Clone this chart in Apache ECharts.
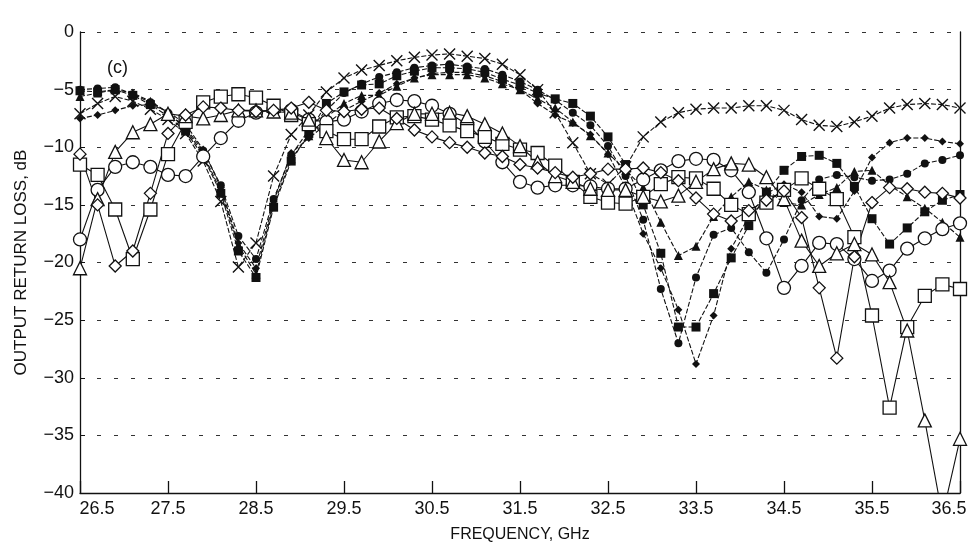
<!DOCTYPE html>
<html>
<head>
<meta charset="utf-8">
<title>Output return loss</title>
<script src="https://cdn.jsdelivr.net/npm/echarts@6/dist/echarts.min.js"></script>
<style>
  html, body { margin: 0; padding: 0; background: #fff; }
  #chart { width: 974px; height: 549px; }
</style>
</head>
<body>
<div id="chart"></div>
<script>
// frequency points, GHz
var freqs = ['26.5','26.7','26.9','27.1','27.3','27.5','27.7','27.9','28.1','28.3',
             '28.5','28.7','28.9','29.1','29.3','29.5','29.7','29.9','30.1','30.3',
             '30.5','30.7','30.9','31.1','31.3','31.5','31.7','31.9','32.1','32.3',
             '32.5','32.7','32.9','33.1','33.3','33.5','33.7','33.9','34.1','34.3',
             '34.5','34.7','34.9','35.1','35.3','35.5','35.7','35.9','36.1','36.3','36.5'];

// output return loss, dB (one list per marker)
var crossLoss = [-7.1,-6.2,-5.6,-6.0,-6.7,-7.6,-8.8,-11.2,-14.7,-20.4,
                 -18.3,-12.5,-8.9,-7.2,-5.2,-4.0,-3.3,-2.9,-2.5,-2.2,
                 -2.0,-1.9,-2.1,-2.3,-2.8,-3.7,-5.0,-7.0,-9.6,-12.3,
                 -13.2,-11.7,-9.1,-7.8,-7.0,-6.7,-6.6,-6.6,-6.4,-6.4,
                 -6.8,-7.6,-8.1,-8.2,-7.8,-7.3,-6.6,-6.3,-6.2,-6.3,-6.6];
var dotLoss = [-5.0,-4.9,-4.8,-5.4,-6.1,-7.0,-8.3,-10.3,-13.3,-17.7,
               -19.7,-14.5,-10.7,-8.5,-6.8,-5.3,-4.5,-3.9,-3.5,-3.1,
               -2.9,-2.8,-3.0,-3.2,-3.7,-4.3,-5.0,-5.9,-7.0,-8.1,
               -9.9,-12.5,-16.3,-22.3,-27.0,-21.3,-17.6,-17.0,-19.1,-20.9,
               -18.0,-14.6,-12.8,-12.4,-12.6,-12.9,-12.8,-12.3,-11.4,-11.1,-10.7];
var squareLoss = [-5.1,-5.2,-5.0,-5.5,-6.3,-7.3,-8.6,-10.8,-14.0,-19.0,
                  -21.3,-15.2,-11.2,-8.8,-6.2,-5.2,-4.6,-4.5,-3.8,-3.4,
                  -3.1,-3.1,-3.2,-3.5,-4.1,-4.6,-5.3,-5.8,-6.2,-7.3,
                  -9.1,-11.5,-15.0,-19.2,-25.6,-25.6,-22.7,-19.6,-16.8,-13.9,
                  -12.0,-10.8,-10.7,-11.4,-13.4,-16.2,-18.4,-17.0,-15.6,-14.6,-14.1];
var triLoss = [-5.6,-5.3,-5.0,-5.3,-6.0,-7.0,-8.4,-10.6,-13.8,-18.5,
               -21.0,-15.0,-11.0,-9.0,-7.4,-6.2,-5.5,-5.5,-4.7,-4.0,
               -3.7,-3.7,-3.7,-4.0,-4.5,-5.0,-5.8,-6.6,-7.8,-9.0,
               -10.5,-12.0,-13.5,-16.5,-19.4,-18.6,-16.0,-14.3,-13.0,-13.7,
               -14.8,-15.0,-14.1,-13.5,-12.1,-12.0,-13.3,-14.3,-15.3,-16.5,-17.8];
var diamondLoss = [-7.5,-7.2,-6.8,-6.4,-6.3,-6.9,-8.0,-10.2,-13.5,-18.3,
                   -20.5,-14.7,-10.5,-9.2,-8.0,-6.8,-6.0,-5.3,-4.5,-4.0,
                   -3.6,-3.5,-3.5,-3.8,-4.3,-5.0,-6.2,-7.2,-7.9,-8.9,
                   -10.6,-13.5,-17.5,-20.5,-24.1,-28.8,-24.6,-18.8,-16.0,-14.0,
                   -13.2,-13.9,-16.0,-16.2,-13.8,-10.9,-9.6,-9.2,-9.2,-9.5,-9.7];
var openCircleLoss = [-18.0,-13.7,-11.7,-11.3,-11.7,-12.4,-12.5,-10.8,-9.2,-7.7,
                      -7.0,-6.7,-6.8,-7.6,-7.8,-7.6,-6.9,-6.2,-5.9,-6.0,
                      -6.4,-7.1,-8.0,-9.5,-11.3,-13.0,-13.5,-13.3,-13.3,-13.4,
                      -13.6,-13.6,-12.8,-12.0,-11.2,-11.0,-11.1,-12.0,-13.9,-17.9,
                      -22.2,-20.3,-18.3,-18.4,-19.7,-21.6,-20.7,-18.8,-17.9,-17.1,-16.6];
var openSquareLoss = [-11.5,-12.4,-15.4,-19.7,-15.4,-10.6,-7.8,-6.1,-5.6,-5.4,
                      -5.7,-6.4,-7.2,-8.0,-8.6,-9.3,-9.3,-8.2,-7.4,-7.3,
                      -7.6,-8.1,-8.6,-9.1,-9.7,-10.2,-10.5,-11.6,-13.0,-14.3,
                      -14.8,-14.9,-14.3,-13.2,-12.6,-12.7,-13.6,-15.0,-15.8,-14.8,
                      -13.7,-12.7,-13.6,-14.5,-17.8,-24.6,-32.6,-25.6,-22.9,-21.9,-22.3];
var openTriLoss = [-20.5,-14.5,-10.4,-8.7,-8.0,-7.1,-7.3,-7.5,-7.2,-6.8,
                   -6.8,-6.9,-7.0,-7.6,-9.2,-11.1,-11.3,-9.5,-7.9,-7.1,
                   -7.1,-7.0,-7.3,-8.0,-8.8,-9.9,-11.3,-12.5,-13.0,-13.6,
                   -13.7,-13.7,-14.3,-14.7,-14.2,-13.0,-11.9,-11.4,-11.5,-12.6,
                   -14.5,-18.1,-20.3,-19.2,-18.4,-19.3,-21.7,-25.9,-33.7,-42.0,-35.3];
var openDiamondLoss = [-10.6,-15.0,-20.3,-19.0,-14.0,-8.8,-7.2,-6.5,-6.6,-6.8,
                       -6.9,-6.8,-6.6,-6.1,-6.8,-6.9,-6.7,-6.6,-7.5,-8.5,
                       -9.1,-9.6,-10.0,-10.5,-10.8,-11.5,-11.8,-12.2,-12.6,-12.3,
                       -11.9,-11.9,-11.8,-12.2,-12.9,-14.4,-15.8,-16.4,-15.5,-14.6,
                       -13.8,-16.1,-22.2,-28.3,-19.5,-14.8,-13.5,-13.6,-13.9,-14.0,-14.4];

var yTicks = { min: -40, max: 0, step: 5 };
var ink = '#111';
var font = 'Liberation Sans, Arial, Helvetica, sans-serif';

function curve(name, data, symbol, size, open, dashed) {
    return {
        name: name,
        type: 'line',
        data: data,
        symbol: symbol,
        symbolSize: size,
        showAllSymbol: true,
        clip: true,
        lineStyle: { color: ink, width: 1.1, type: dashed ? [5, 2] : 'solid' },
        itemStyle: open
            ? { color: '#fff', borderColor: ink, borderWidth: 1.3 }
            : { color: ink, borderColor: ink, borderWidth: 0 },
        emphasis: { disabled: true },
        z: open ? 3 : 2
    };
}

var crossSeries = curve('x', crossLoss, 'path://M0,0L10,10M10,0L0,10', 11, false, true);
crossSeries.itemStyle = { color: 'none', borderColor: ink, borderWidth: 1.4 };

// end labels are nudged inside the frame, as in the print
function freqLabel(v, i) {
    if (i === 0) return '{first|' + v + '}';
    if (i === freqs.length - 1) return '{last|' + v + '}';
    return v;
}

var chart = echarts.init(document.getElementById('chart'));
chart.setOption({
    animation: false,
    backgroundColor: '#fff',
    textStyle: { fontFamily: font, color: ink },
    title: {
        text: '(c)', left: 102, top: 54,
        textStyle: { fontFamily: font, fontSize: 18, fontWeight: 'normal', color: ink }
    },
    grid: { left: 80, right: 14, top: 32, bottom: 56 },
    xAxis: [{
        type: 'category',
        data: freqs,
        boundaryGap: false,
        name: 'FREQUENCY, GHz',
        nameLocation: 'middle',
        nameGap: 34,
        nameTextStyle: { fontFamily: font, fontSize: 16, color: ink },
        axisLine: { onZero: false, lineStyle: { color: ink, width: 1.3 } },
        axisTick: { show: true, inside: true, length: 12, interval: 4, lineStyle: { color: ink, width: 1.3 } },
        axisLabel: {
            interval: 4, margin: 7, fontSize: 18, color: ink, fontFamily: font,
            formatter: freqLabel,
            rich: {
                first: { fontSize: 18, fontFamily: font, color: ink, padding: [0, 0, 0, 34] },
                last: { fontSize: 18, fontFamily: font, color: ink, padding: [0, 22, 0, 0] }
            }
        },
        splitLine: { show: false }
    }],
    yAxis: [{
        type: 'value',
        min: yTicks.min, max: yTicks.max, interval: yTicks.step,
        name: 'OUTPUT RETURN LOSS, dB',
        nameLocation: 'middle',
        nameGap: 50,
        nameRotate: 90,
        nameTextStyle: { fontFamily: font, fontSize: 17, color: ink },
        axisLine: { show: true, lineStyle: { color: ink, width: 1.3 } },
        axisTick: { show: true, inside: true, length: 5, lineStyle: { color: ink } },
        axisLabel: {
            margin: 6, fontSize: 18, color: ink, fontFamily: font,
            formatter: function (v) { return v < 0 ? '\u2212' + (-v) : String(v); }
        },
        splitLine: { show: true, lineStyle: { color: '#333', width: 1, type: [4, 13] } }
    }, {
        type: 'value',
        position: 'right',
        min: yTicks.min, max: yTicks.max, interval: yTicks.step,
        axisLine: { show: true, onZero: false, lineStyle: { color: ink, width: 1.3 } },
        axisTick: { show: false },
        axisLabel: { show: false },
        splitLine: { show: false }
    }],
    series: [
        crossSeries,
        curve('dot', dotLoss, 'circle', 8, false, true),
        curve('square', squareLoss, 'rect', 9, false, true),
        curve('tri', triLoss, 'triangle', 9, false, true),
        curve('diamond', diamondLoss, 'diamond', 8, false, true),
        curve('open circle', openCircleLoss, 'circle', 13, true, false),
        curve('open square', openSquareLoss, 'rect', 13, true, false),
        curve('open tri', openTriLoss, 'triangle', 13, true, false),
        curve('open diamond', openDiamondLoss, 'diamond', 12, true, false)
    ]
});
</script>
</body>
</html>
